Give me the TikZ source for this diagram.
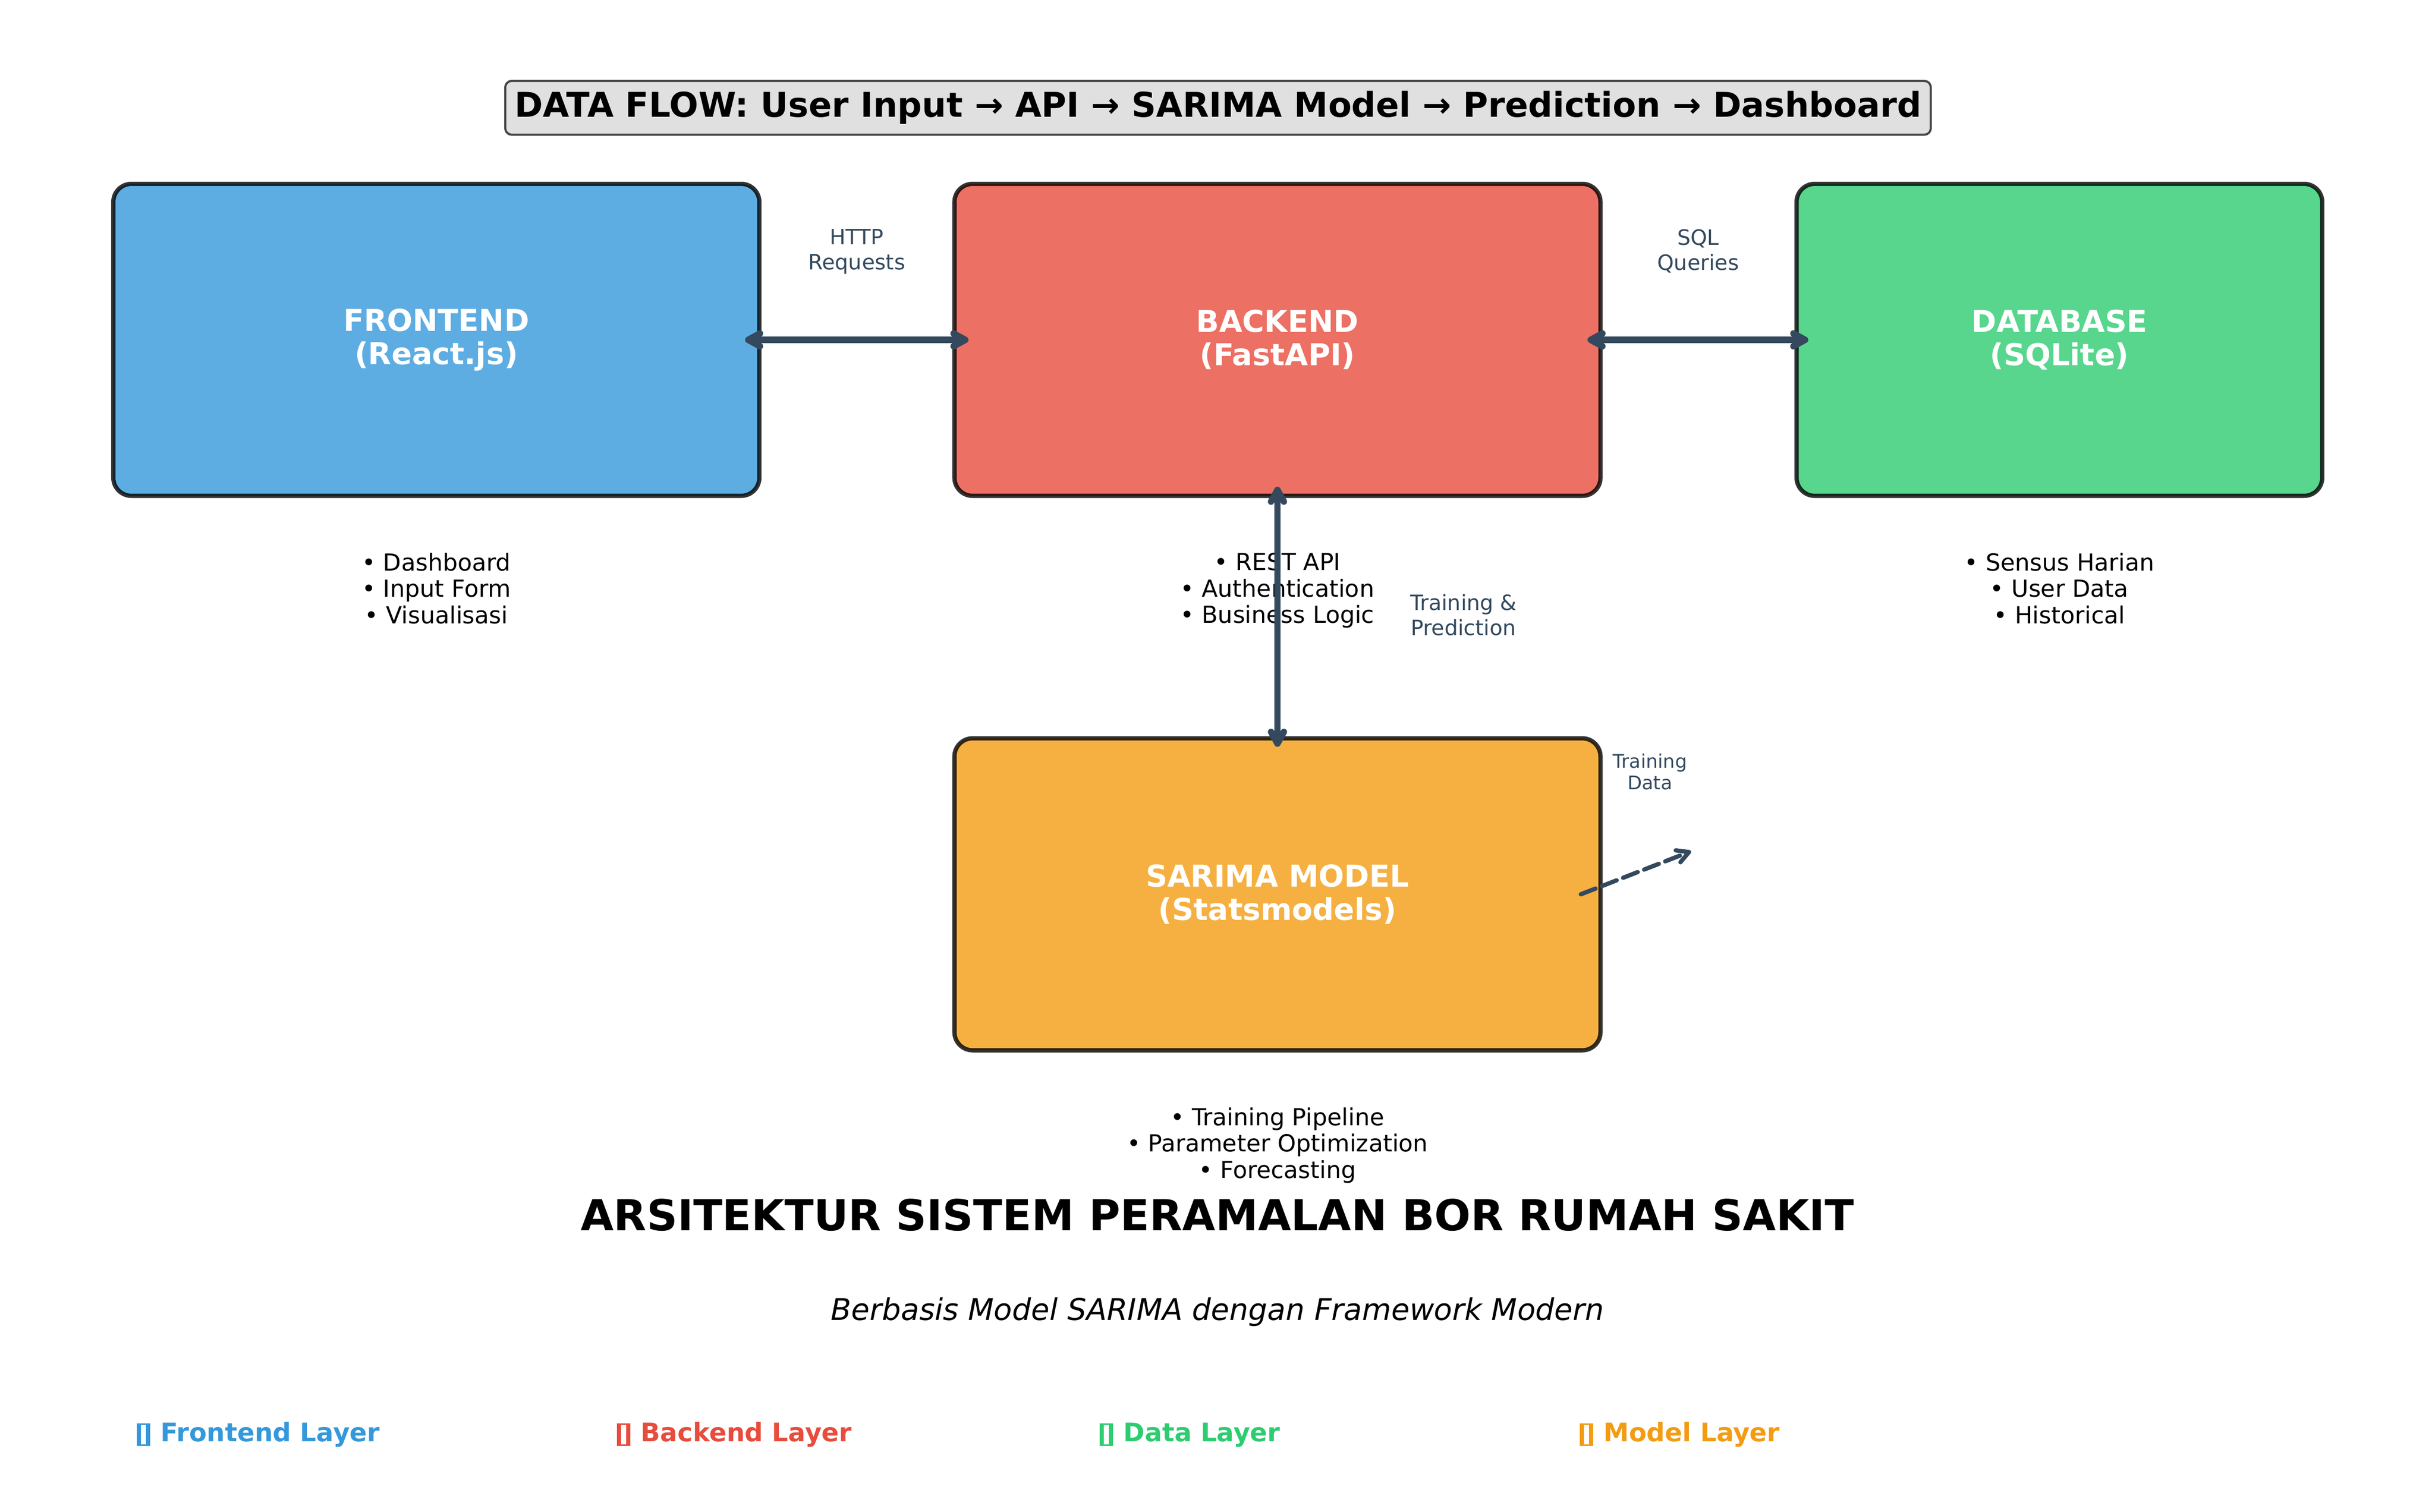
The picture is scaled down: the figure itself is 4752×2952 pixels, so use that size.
\documentclass[tikz,border=0pt]{standalone}
\usepackage{fontspec}
\setmainfont{DejaVu Sans}
\usetikzlibrary{arrows.meta}
\definecolor{fe}{HTML}{3498DB}
\definecolor{be}{HTML}{E74C3C}
\definecolor{da}{HTML}{2ECC71}
\definecolor{mo}{HTML}{F39C12}
\definecolor{fefill}{RGB}{93,173,226}
\definecolor{befill}{RGB}{236,112,99}
\definecolor{dafill}{RGB}{88,214,141}
\definecolor{mofill}{RGB}{245,176,65}
\definecolor{ink}{HTML}{34495E}
\definecolor{flowfill}{RGB}{224,224,224}
\begin{document}
\begin{tikzpicture}[x=0.24pt,y=-0.24pt,
  comp/.style={draw=black, draw opacity=0.8, line width=2pt, rounded corners=8.5pt,
    minimum width=302.6pt, minimum height=146.2pt, inner sep=0pt, outer sep=0pt,
    text=white, align=center, font=\fontsize{14.1pt}{15.6pt}\selectfont\bfseries},
  bullets/.style={align=center, inner sep=0pt, anchor=north,
    font=\fontsize{11pt}{12.3pt}\selectfont},
  flowlabel/.style={align=center, inner sep=0pt, anchor=north, text=ink,
    font=\fontsize{9.9pt}{11.76pt}\selectfont},
  tipb/.tip={Straight Barb[length=5.5pt,width=6pt,round]},
  link/.style={draw=ink, line width=3pt, tipb-tipb},
  legendtext/.style={anchor=base west, inner sep=0pt,
    font=\fontsize{12pt}{14pt}\selectfont\bfseries},
]
% canvas
\fill[white] (0,0) rectangle (4752,2952);
\path[use as bounding box] (0,0) rectangle (4752,2952);

% flow banner
\node[draw=black, draw opacity=0.7, fill=flowfill, line width=1pt, rounded corners=3pt,
  minimum width=667.7pt, minimum height=25.2pt, inner sep=0pt,
  font=\fontsize{16pt}{19pt}\selectfont\bfseries] (flow) at (2377,210.5)
  {DATA FLOW: User Input → API → SARIMA Model → Prediction → Dashboard};

% components
\node[comp, fill=fefill] (front) at (851.5,663.5) {FRONTEND\\(React.js)};
\node[comp, fill=befill] (back) at (2493,663.5) {BACKEND\\(FastAPI)};
\node[comp, fill=dafill, minimum width=246.2pt] (db) at (4019,663.5) {DATABASE\\(SQLite)};
\node[comp, fill=mofill] (model) at (2493,1746) {SARIMA MODEL\\(Statsmodels)};

% bullet lists
\node[bullets] (febul) at (851.5,1079) {• Dashboard\\• Input Form\\• Visualisasi};
\node[bullets] (bebul) at (2493,1079) {• REST API\\• Authentication\\• Business Logic};
\node[bullets] (dabul) at (4019,1079) {• Sensus Harian\\• User Data\\• Historical};
\node[bullets] (mobul) at (2493,2162) {• Training Pipeline\\• Parameter Optimization\\• Forecasting};

% connector labels
\node[flowlabel] (httpl) at (1672,447) {HTTP\\Requests};
\node[flowlabel] (sqll) at (3314,447) {SQL\\Queries};
\node[flowlabel] (tpl) at (2856,1159) {Training \&\\Prediction};
\node[flowlabel, font=\fontsize{8.8pt}{10.1pt}\selectfont] (tdl) at (3220,1471) {Training\\Data};

% connectors
\draw[link] ([xshift=-6.7pt]front.east) -- ([xshift=6.6pt]back.west);
\draw[link] ([xshift=-6.1pt]back.east) -- ([xshift=5.5pt]db.west);
\draw[link] ([yshift=4.3pt]back.south) -- ([yshift=-4pt]model.north);
\coordinate (tdend) at (3300,1662);
\draw[ink, line width=2pt, dash pattern=on 7.4pt off 3.2pt, line cap=round, -tipb]
  ([xshift=-9.2pt]model.east) -- (tdend);

% titles
\node[anchor=base, inner sep=0pt, font=\fontsize{20pt}{23pt}\selectfont\bfseries] (title)
  at (2376,2402) {ARSITEKTUR SISTEM PERAMALAN BOR RUMAH SAKIT};
\node[anchor=base, inner sep=0pt, font=\fontsize{14pt}{17pt}\selectfont\itshape] (sub)
  at (2376,2577) {Berbasis Model SARIMA dengan Framework Modern};

% legend
\fill[fe, even odd rule] (267,2779) rectangle (293,2823) (275,2782) rectangle (285,2820);
\fill[be, even odd rule] (1204,2779) rectangle (1230,2823) (1212,2782) rectangle (1222,2820);
\fill[da, even odd rule] (2146,2779) rectangle (2172,2823) (2154,2782) rectangle (2164,2820);
\fill[mo, even odd rule] (3083,2779) rectangle (3109,2823) (3091,2782) rectangle (3101,2820);
\node[legendtext, text=fe] (lf) at (313,2814) {Frontend Layer};
\node[legendtext, text=be] (lb) at (1250,2814) {Backend Layer};
\node[legendtext, text=da] (ld) at (2192,2814) {Data Layer};
\node[legendtext, text=mo] (lm) at (3129,2814) {Model Layer};
\end{tikzpicture}
\end{document}
